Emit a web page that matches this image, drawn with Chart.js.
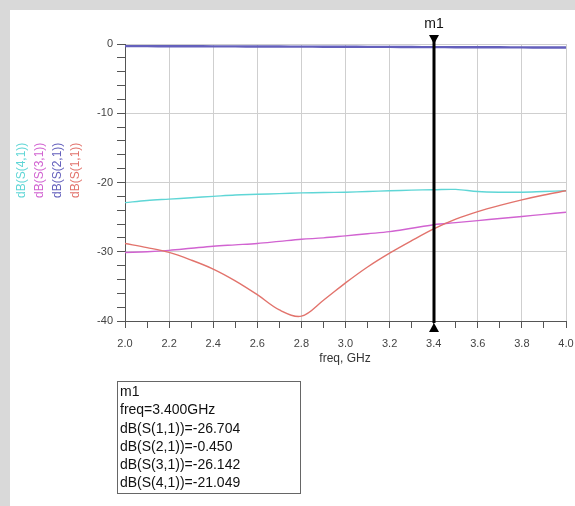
<!DOCTYPE html>
<html>
<head>
<meta charset="utf-8">
<script src="https://cdn.jsdelivr.net/npm/chart.js@4.4.0/dist/chart.umd.min.js"></script>
<style>
  body { margin: 0; background: #d9d9d9; width: 575px; height: 506px; overflow: hidden;
         font-family: "Liberation Sans", Arial, sans-serif; }
  #panel { position: absolute; left: 10px; top: 10px; width: 565px; height: 496px; background: #fff; }
  #plot { position: absolute; left: 0; top: 0; }
  .leg { position: absolute; transform: rotate(-90deg); transform-origin: left top;
         font-size: 12px; line-height: 14px; white-space: nowrap; }
  #xtitle { position: absolute; left: 295px; width: 100px; top: 351px; text-align: center;
            font-size: 12px; color: #333; }
  #mbox { position: absolute; left: 117px; top: 381px; width: 180px; height: 111px;
          border: 1px solid #666; font-size: 14px; line-height: 18.3px; color: #111; padding-left: 2px; }
</style>
</head>
<body>
<div id="panel"></div>
<canvas id="plot" width="575" height="506"></canvas>
<div id="legend"></div>
<div id="xtitle">freq, GHz</div>
<div id="mbox"></div>
<script>
// frequency points, GHz
const freq = [2.0, 2.1, 2.2, 2.3, 2.4, 2.5, 2.6, 2.7, 2.8, 2.9, 3.0,
              3.1, 3.2, 3.3, 3.4, 3.5, 3.6, 3.7, 3.8, 3.9, 4.0];
// dB values
const s11 = [-28.8, -29.4, -30.1, -31.2, -32.5, -34.2, -36.2, -38.4, -39.3, -37.0, -34.5,
             -32.2, -30.2, -28.4, -26.7, -25.3, -24.2, -23.3, -22.5, -21.8, -21.2];
const s21 = [-0.30, -0.31, -0.32, -0.33, -0.34, -0.35, -0.36, -0.37, -0.38, -0.39, -0.40,
             -0.41, -0.42, -0.44, -0.45, -0.46, -0.47, -0.48, -0.49, -0.50, -0.50];
const s31 = [-30.1, -30.0, -29.8, -29.5, -29.2, -29.0, -28.8, -28.5, -28.2, -28.0, -27.7,
             -27.4, -27.1, -26.6, -26.1, -25.8, -25.5, -25.2, -24.9, -24.6, -24.3];
const s41 = [-22.9, -22.6, -22.4, -22.2, -22.0, -21.8, -21.7, -21.6, -21.5, -21.45, -21.4,
             -21.3, -21.2, -21.1, -21.05, -21.0, -21.3, -21.4, -21.4, -21.3, -21.2];

const traceNames = ["dB(S(1,1))", "dB(S(2,1))", "dB(S(3,1))", "dB(S(4,1))"];
const traceColors = ["#e2736c", "#6460bc", "#d163d1", "#5fd6d6"];
const traceData = [s11, s21, s31, s41];

const markerName = "m1";
const markerFreq = 3.4;
const markerValues = ["-26.704", "-0.450", "-26.142", "-21.049"];

// rotated legend on the left, S(4,1) first
const legend = document.getElementById("legend");
const legLeft = [14, 32, 50, 68];
[3, 2, 1, 0].forEach((k, i) => {
  const d = document.createElement("div");
  d.className = "leg";
  d.textContent = traceNames[k];
  d.style.color = traceColors[k];
  d.style.left = legLeft[i] + "px";
  d.style.top = "198px";
  legend.appendChild(d);
});

// marker readout box
const mbox = document.getElementById("mbox");
const lines = [markerName, "freq=" + markerFreq.toFixed(3) + "GHz"];
traceNames.forEach((n, k) => lines.push(n + "=" + markerValues[k]));
mbox.innerHTML = lines.map(s => "<div>" + s + "</div>").join("");

const markerPlugin = {
  id: "marker",
  afterDatasetsDraw(chart) {
    const { ctx, chartArea, scales: { x } } = chart;
    const px = Math.round(x.getPixelForValue(markerFreq));
    ctx.save();
    ctx.strokeStyle = "#000";
    ctx.lineWidth = 3;
    ctx.beginPath();
    ctx.moveTo(px, chartArea.top - 8);
    ctx.lineTo(px, chartArea.bottom + 2);
    ctx.stroke();
    ctx.fillStyle = "#000";
    ctx.beginPath();
    ctx.moveTo(px - 5, chartArea.top - 9);
    ctx.lineTo(px + 5, chartArea.top - 9);
    ctx.lineTo(px, chartArea.top);
    ctx.fill();
    ctx.beginPath();
    ctx.moveTo(px - 5, chartArea.bottom + 11);
    ctx.lineTo(px + 5, chartArea.bottom + 11);
    ctx.lineTo(px, chartArea.bottom + 2);
    ctx.fill();
    ctx.font = '14px "Liberation Sans", Arial, sans-serif';
    ctx.textAlign = "center";
    ctx.fillStyle = "#111";
    ctx.fillText(markerName, px, chartArea.top - 16);
    ctx.restore();
  }
};

Chart.defaults.font.family = '"Liberation Sans", Arial, sans-serif';
Chart.defaults.font.size = 11;
Chart.defaults.color = "#444";

const isMajorX = v => Math.round(v * 10) % 2 === 0;
const isMajorY = v => Math.round(v) % 10 === 0;

new Chart(document.getElementById("plot"), {
  type: "line",
  data: {
    datasets: traceData.map((vals, k) => ({
      label: traceNames[k],
      data: freq.map((f, i) => ({ x: f, y: vals[i] })),
      borderColor: traceColors[k],
      borderWidth: k === 1 ? 2.4 : 1.4,
      pointRadius: 0,
      tension: 0.35,
    })),
  },
  options: {
    responsive: false,
    animation: false,
    layout: { padding: { top: 44, right: 0, left: 0, bottom: 0 } },
    plugins: { legend: { display: false }, tooltip: { enabled: false } },
    scales: {
      x: {
        type: "linear",
        min: 2,
        max: 4,
        afterFit(scale) { scale.height = 185; scale.paddingRight = 9; },
        ticks: {
          stepSize: 0.1,
          maxRotation: 0,
          autoSkip: false,
          padding: 9,
          callback: v => (isMajorX(v) ? v.toFixed(1) : ""),
        },
        grid: {
          color: c => (c.tick && isMajorX(c.tick.value) ? "#cfcfcf" : "rgba(0,0,0,0)"),
          tickColor: "#555",
          tickLength: 7,
        },
        border: { color: "#555", width: 1 },
      },
      y: {
        min: -40,
        max: 0,
        afterFit(scale) { scale.width = 125; },
        ticks: {
          stepSize: 2,
          autoSkip: false,
          padding: 4,
          callback: v => (isMajorY(v) ? v : ""),
        },
        grid: {
          color: c => (c.tick && isMajorY(c.tick.value) ? "#cfcfcf" : "rgba(0,0,0,0)"),
          tickColor: "#555",
          tickLength: 8,
        },
        border: { color: "#555", width: 1 },
      },
    },
  },
  plugins: [markerPlugin],
});
</script>
</body>
</html>
